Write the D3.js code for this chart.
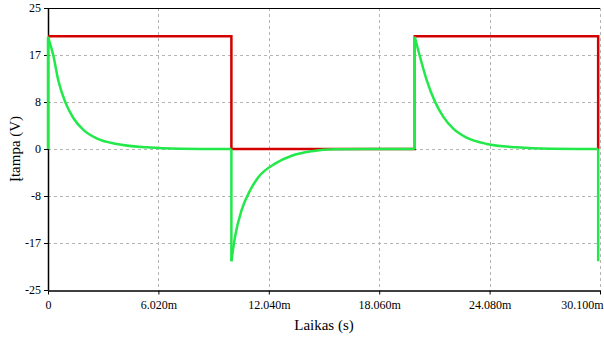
<!doctype html>
<html>
  <head>
    <meta charset="utf-8">
    <title>Įtampa</title>
    <script type="text/javascript" src="https://d3js.org/d3.v7.min.js"></script>
    <style>
      body { margin: 0; background: #fff; }
    </style>
  </head>
  <body>
    <script>
      // laikas in ms, įtampa in V
      const xTicks = [0, 6.02, 12.04, 18.06, 24.08, 30.1];
      const xTickLabels = ['0', '6.020m', '12.040m', '18.060m', '24.080m', '30.100m'];
      const yTicks = [25, 50 / 3, 25 / 3, 0, -25 / 3, -50 / 3, -25];
      const yTickLabels = ['25', '17', '8', '0', '-8', '-17', '-25'];

      // square wave source
      const redT = [0, 10, 10, 20, 20, 30, 30];
      const redV = [20, 20, 0, 0, 20, 20, 0];

      // output
      const greenT = [0, 0, 0.29, 0.56, 0.93, 1.38, 1.93, 2.65, 3.75, 5.38, 7.2, 10,
        10, 10.2, 10.56, 11.01, 11.47, 12.38, 13.29, 14.38, 15.65, 17.5, 20,
        20, 20.28, 20.65, 21.1, 21.56, 22.1, 22.83, 23.92, 25.56, 27.4, 30, 30];
      const greenV = [0, 19.9, 16.6, 12.2, 8.4, 5.5, 3.4, 1.9, 0.9, 0.3, 0.05, 0,
        -19.9, -15.5, -10.8, -7.4, -5.0, -2.6, -1.2, -0.4, -0.05, 0, 0,
        19.9, 16.4, 12.2, 8.4, 5.7, 3.6, 2.0, 0.9, 0.3, 0.05, 0, -19.9];

      const font = '"Liberation Serif", "DejaVu Serif", serif';
      const width = 604, height = 337;
      const margin = {top: 8, right: 4, bottom: 47, left: 48};

      const svg = d3.select('body').append('svg')
          .attr('width', width)
          .attr('height', height)
          .style('font-family', font);

      const x = d3.scaleLinear().domain([0, 30.1]).range([margin.left, width - margin.right]);
      const y = d3.scaleLinear().domain([-25, 25]).range([height - margin.bottom, margin.top]);

      // grid
      svg.append('g')
        .selectAll('line')
        .data(xTicks.slice(1))
        .join('line')
          .attr('x1', d => Math.round(x(d)) + 0.5)
          .attr('x2', d => Math.round(x(d)) + 0.5)
          .attr('y1', y(25))
          .attr('y2', y(-25))
          .attr('stroke', '#b4b4b4')
          .attr('stroke-dasharray', '3,3');

      svg.append('g')
        .selectAll('line')
        .data(yTicks.slice(1, -1))
        .join('line')
          .attr('x1', x(0))
          .attr('x2', x(30.1))
          .attr('y1', d => Math.round(y(d)) + 0.5)
          .attr('y2', d => Math.round(y(d)) + 0.5)
          .attr('stroke', '#b4b4b4')
          .attr('stroke-dasharray', '3,3');

      // top border
      svg.append('line')
          .attr('x1', x(0)).attr('x2', x(30.1))
          .attr('y1', y(25) + 0.5).attr('y2', y(25) + 0.5)
          .attr('stroke', '#000');

      // axes
      const xAxis = svg.append('g')
          .attr('transform', `translate(0,${y(-25) + 0.5})`)
          .call(d3.axisBottom(x).tickValues(xTicks).tickFormat((d, i) => xTickLabels[i]).tickSize(4).tickSizeOuter(0));
      xAxis.attr('font-family', null).attr('font-size', null);
      xAxis.select('.domain').attr('stroke', '#000').attr('stroke-width', 1.5);
      xAxis.selectAll('text')
          .attr('dy', null).attr('y', 18).attr('fill', '#000')
          .style('font-family', font).style('font-size', '12px');
      xAxis.selectAll('.tick:last-of-type text').attr('text-anchor', 'end').attr('dx', 3);

      const yAxis = svg.append('g')
          .attr('transform', `translate(${x(0)},0)`)
          .call(d3.axisLeft(y).tickValues(yTicks).tickFormat((d, i) => yTickLabels[i]).tickSize(4).tickSizeOuter(0));
      yAxis.attr('font-family', null).attr('font-size', null);
      yAxis.select('.domain').attr('stroke', '#000').attr('stroke-width', 1.5);
      yAxis.selectAll('text')
          .attr('x', -7).attr('fill', '#000')
          .style('font-family', font).style('font-size', '12px');

      const line = d3.line()
          .x(d => x(d[0]))
          .y(d => y(d[1]));

      svg.append('path')
          .datum(redT.map((t, i) => [t, redV[i]]))
          .attr('d', line)
          .attr('fill', 'none')
          .attr('stroke', '#d40000')
          .attr('stroke-width', 2.5);

      // green: split at the jumps, smooth each decay, straight jumps
      const pts = greenT.map((t, i) => [t, greenV[i]]);
      const pieces = [];
      let cur = [pts[0]];
      for (let i = 1; i < pts.length; i++) {
        if (pts[i][0] === pts[i - 1][0]) {
          pieces.push(cur);
          pieces.push([pts[i - 1], pts[i]]);
          cur = [pts[i]];
        } else {
          cur.push(pts[i]);
        }
      }
      pieces.push(cur);

      const greenLine = d3.line()
          .x(d => x(d[0]))
          .y(d => y(d[1]))
          .curve(d3.curveMonotoneX);

      svg.append('g')
        .selectAll('path')
        .data(pieces.filter(p => p.length > 1))
        .join('path')
          .attr('d', d => (d.length === 2 && d[0][0] === d[1][0]) ? line(d) : greenLine(d))
          .attr('fill', 'none')
          .attr('stroke', '#22e84a')
          .attr('stroke-width', 2.5)
          .attr('stroke-linejoin', 'round');

      // labels
      svg.append('text')
          .attr('x', (x(0) + x(30.1)) / 2)
          .attr('y', 330)
          .attr('text-anchor', 'middle')
          .style('font-family', font)
          .style('font-size', '15px')
          .text('Laikas (s)');

      svg.append('text')
          .attr('transform', `translate(20,${(y(25) + y(-25)) / 2}) rotate(-90)`)
          .attr('text-anchor', 'middle')
          .style('font-family', font)
          .style('font-size', '15px')
          .text('Įtampa (V)');
    </script>
  </body>
</html>
